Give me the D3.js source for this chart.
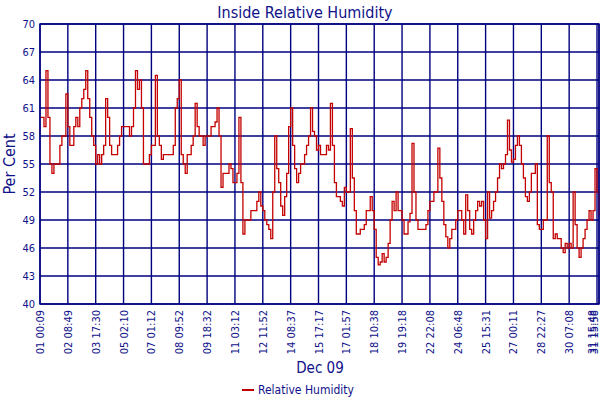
<!DOCTYPE html>
<html>
<head>
<meta charset="utf-8">
<script src="https://cdn.jsdelivr.net/npm/d3@7"></script>
<style>
    body { margin: 0; background: #fff; }
    text { font-family: "DejaVu Sans Condensed", "DejaVu Sans", sans-serif; fill: #10108a; }
</style>
</head>
<body>
<svg id="chart" width="600" height="400"></svg>
<script>
// Tick labels along the bottom, one every 14 samples (last one is the final sample).
var tickLabels = [
    "01 00:09", "02 08:49", "03 17:30", "05 02:10", "07 01:12", "08 09:52", "09 18:32",
    "11 03:12", "12 11:52", "14 08:37", "15 17:17", "17 01:57", "18 10:38", "19 19:18",
    "22 22:08", "24 06:48", "25 15:31", "27 00:11", "28 22:27", "30 07:08", "31 15:48",
    "31 15:58"
];
var tickEvery = 14;

// Relative humidity readings (per cent).
var humidity = [
    60, 60, 59, 65, 60, 55, 54, 55, 55, 55,
    57, 58, 58, 62.5, 59, 57, 57, 59, 60, 59,
    61, 62, 63, 65, 62, 60, 58, 57, 55, 56,
    55, 56, 57, 62, 60, 57, 56, 56, 56, 57,
    58, 59, 59, 59, 59, 58, 59, 61, 65, 63,
    64, 61, 55, 55, 55, 56, 57, 57, 64.5, 58,
    57, 55.5, 56, 56, 56, 56, 56, 57, 61, 62,
    64, 56, 55, 54, 56, 56, 57, 58, 61.5, 59,
    58, 58, 57, 58, 58, 58, 59, 59, 59.5, 61,
    58, 52.5, 54, 54, 54, 55, 54.5, 53, 53,
    54, 60, 53, 47.5, 49, 49, 49, 50, 50, 50, 51, 52,
    50.5, 50, 49, 48.5, 48, 47, 52, 58, 54.5, 53,
    50.5, 49.5, 51.5, 54, 59, 61, 57, 54.5, 53, 54,
    55, 55, 56, 57, 58, 61, 58.5, 58, 56.5, 57,
    56, 56, 56, 57, 56.5, 61.5, 57, 53, 51.5, 51.5,
    51, 50.5, 52.5, 52, 52, 58.8, 53.5, 50, 47.5, 47.5,
    48, 48, 48.5, 50, 50, 51.5, 50, 48, 45, 44.2,
    44.5, 45.4, 44.5, 45, 46.5, 49, 51, 50, 52, 50,
    50, 49, 47.5, 47.5, 48.8, 49.7, 57.2, 52, 49, 48,
    48, 48, 48, 48.5, 50, 51,
    51, 52, 52, 56.7, 53.5, 51, 48.5, 47.2, 46, 47,
    48, 48, 49, 50, 50, 49, 47.5, 51.7, 50, 48,
    47.5, 49, 50, 51, 50.5, 51, 49, 47, 52, 49.2,
    50, 51, 52, 53.5, 55, 54.5, 55, 56, 59.7, 56.5,
    55.2, 55.5, 57, 58, 57, 55, 53.5, 51.5, 51, 52,
    54, 54, 55, 48.5, 48, 48, 49, 49, 58, 53,
    52, 47, 47.5, 47, 47, 46, 45.5, 46.5, 46, 46.5,
    46, 52, 48.5, 46, 45, 46, 47, 48, 49, 50,
    49, 50, 54.5, 52, 49.5
];
var yTicks = [40, 43, 46, 49, 52, 55, 58, 61, 64, 67, 70];

var navy = "#000080";
var margin = { left: 40, right: 1, top: 24, bottom: 96 };
var width = 600, height = 400;

var svg = d3.select("#chart");

var x = d3.scaleLinear()
    .domain([0, humidity.length - 1])
    .range([margin.left, width - margin.right]);
var y = d3.scaleLinear()
    .domain([40, 70])
    .range([height - margin.bottom, margin.top]);

// Tick index for each label; the last label sits on the last sample.
var tickIdx = tickLabels.map((d, i) => i < tickLabels.length - 1 ? i * tickEvery : humidity.length - 1);

// Grid
var grid = svg.append("g")
    .attr("stroke", navy)
    .attr("stroke-width", 1.4);
grid.selectAll("line.h")
    .data(yTicks)
    .join("line")
    .attr("class", "h")
    .attr("x1", x.range()[0]).attr("x2", x.range()[1])
    .attr("y1", (d) => y(d)).attr("y2", (d) => y(d));
grid.selectAll("line.v")
    .data(tickIdx)
    .join("line")
    .attr("class", "v")
    .attr("x1", (d) => x(d)).attr("x2", (d) => x(d))
    .attr("y1", y(40)).attr("y2", y(70));

// Humidity trace
var line = d3.line()
    .x((d, i) => x(i))
    .y((d) => y(d))
    .curve(d3.curveStepAfter);
svg.append("path")
    .datum(humidity)
    .attr("fill", "none")
    .attr("stroke", "#c40000")
    .attr("stroke-width", 1.3)
    .attr("d", line);

// Frame on top of the trace
svg.append("rect")
    .attr("x", x.range()[0]).attr("y", y(70))
    .attr("width", x.range()[1] - x.range()[0])
    .attr("height", y(40) - y(70))
    .attr("fill", "none")
    .attr("stroke", navy)
    .attr("stroke-width", 1.4);

// Y tick labels
svg.append("g")
    .selectAll("text")
    .data(yTicks)
    .join("text")
    .attr("x", margin.left - 5)
    .attr("y", (d) => y(d))
    .attr("dy", "0.35em")
    .attr("text-anchor", "end")
    .attr("font-size", 11)
    .text((d) => d);

// X tick labels, rotated; the two at the right edge are squeezed in so they stay visible
var last = tickLabels.length - 1;
svg.append("g")
    .selectAll("text")
    .data(tickIdx)
    .join("text")
    .attr("transform", (d, i) => {
        var bx = x(d) + 4;
        if (bx > 596) bx = 597.5 - (last - i) * 1.5;
        return `translate(${bx}, ${y(40) + 6}) rotate(-90)`;
    })
    .attr("text-anchor", "end")
    .attr("font-size", 11)
    .text((d, i) => tickLabels[i]);

// Titles
svg.append("text")
    .attr("x", 305).attr("y", 18)
    .attr("text-anchor", "middle")
    .attr("font-size", 16)
    .text("Inside Relative Humidity");
svg.append("text")
    .attr("transform", `translate(15, ${(y(40) + y(70)) / 2}) rotate(-90)`)
    .attr("text-anchor", "middle")
    .attr("font-size", 16)
    .text("Per Cent");
svg.append("text")
    .attr("x", 320).attr("y", 373)
    .attr("text-anchor", "middle")
    .attr("font-size", 15)
    .text("Dec 09");

// Legend
var legend = svg.append("g").attr("transform", "translate(242, 390)");
legend.append("line")
    .attr("x1", 0).attr("x2", 12)
    .attr("stroke", "#c40000")
    .attr("stroke-width", 2);
legend.append("text")
    .attr("x", 16).attr("dy", "0.35em")
    .attr("font-size", 12)
    .text("Relative Humidity");
</script>
</body>
</html>
